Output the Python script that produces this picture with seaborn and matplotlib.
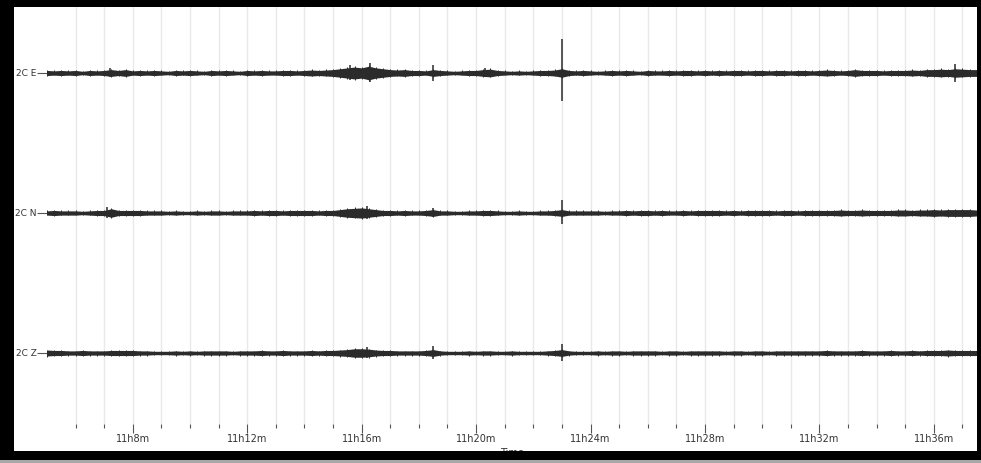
import numpy as np
import pandas as pd
import matplotlib
matplotlib.use("Agg")
import matplotlib.pyplot as plt
from matplotlib.patches import Rectangle
from matplotlib.ticker import FixedLocator
import seaborn as sns

# channels, top to bottom
channels = ["2C E", "2C N", "2C Z"]

# envelope half-amplitude (counts), one value every 0.25 min from 11h05m to 11h37m30s
t0, dt = 5.0, 0.25
env_e = [3, 2.5, 3, 2.5, 3, 2, 3, 2.5, 3, 4, 3, 4, 2.5, 3, 2.5, 3,
         2.5, 2, 3, 2.5, 3, 2.5, 2, 3, 2.5, 3, 2.5, 2, 3, 2.5, 3, 2.5,
         2.5, 3, 3, 2.5, 3, 3.5, 3, 3.5, 4, 5, 6, 7, 6, 8, 6, 5,
         4, 3.5, 4, 3, 3, 2.5, 4, 3, 2.5, 2, 2.5, 3, 3, 4, 4.5, 3,
         2.5, 2, 2.5, 2, 2.5, 3, 3, 3.5, 5, 3, 2.5, 3, 2.5, 2, 2.5, 3,
         2.5, 3, 2.5, 2, 3, 2.5, 2.5, 3, 2.5, 3, 3, 2.5, 3, 2.5, 3, 2.5,
         3, 3, 2.5, 3, 3, 2.5, 3, 3, 2.5, 3, 3, 2.5, 3, 3.5, 3, 2.5,
         3, 4, 3, 3, 3, 2.5, 3, 3, 3, 3.5, 3, 4, 4, 4.5, 4, 5,
         4.5, 4, 4]
env_n = [2.5, 3, 2.5, 2.5, 2.5, 2, 2.5, 3, 3, 5, 3, 3, 3, 3, 2.5, 2.5,
         2.5, 2, 2.5, 2, 2, 2.5, 2, 2.5, 2.5, 2, 2.5, 2.5, 2.5, 3, 2.5, 3,
         3, 2.5, 3, 3, 3, 3, 2.5, 3, 3, 4, 5, 5.5, 6, 5, 4, 3,
         3, 2.5, 3, 2.5, 2.5, 3, 4, 2.5, 2.5, 2, 2, 2.5, 2.5, 3, 3, 2.5,
         2, 2, 2.5, 2, 2, 2.5, 2.5, 3, 4, 2.5, 2.5, 2.5, 2.5, 2.5, 2, 2.5,
         2.5, 3, 2.5, 3, 3, 2.5, 3, 2.5, 2.5, 3, 2.5, 3, 3, 3, 3, 2.5,
         3, 2.5, 3, 3, 3, 3, 2.5, 3, 3, 2.5, 3, 3, 3, 3, 3, 3.5,
         3, 3, 3.5, 3, 3, 3, 3, 3.5, 3.5, 3, 3.5, 3.5, 4, 3.5, 4, 4,
         4, 4, 3.5]
env_z = [3.5, 3, 3, 2.5, 2.5, 3, 2.5, 2.5, 2.5, 3, 3, 3, 3, 2.5, 2.5, 2,
         2, 2, 2.5, 2, 2.5, 2, 2.5, 2.5, 2.5, 2.5, 2, 2.5, 2.5, 2.5, 3, 2.5,
         2.5, 3, 2.5, 2.5, 2.5, 3, 2.5, 3, 3, 3.5, 4, 5, 5, 4.5, 3.5, 3,
         3, 2.5, 2.5, 2.5, 2.5, 3, 4, 2.5, 2, 2, 2, 2.5, 2, 2.5, 2.5, 2,
         2, 2.5, 2, 2, 2, 2, 2.5, 3, 4, 2.5, 2, 2, 2, 2.5, 2, 2.5,
         2.5, 2, 2.5, 2.5, 2.5, 2.5, 2, 2.5, 2.5, 2, 2.5, 2.5, 2.5, 2.5, 2.5, 2,
         2.5, 2.5, 2, 2.5, 2.5, 2, 2.5, 2.5, 2.5, 2.5, 2.5, 2.5, 2.5, 3, 2.5, 2.5,
         2.5, 2.5, 3, 2.5, 2.5, 2.5, 3, 2.5, 2.5, 3, 2.5, 3, 3, 3, 3.5, 3,
         3, 3, 3]

# transient peaks: time (min past 11h), amplitude up, amplitude down
spk_e_t = [7.2, 15.6, 16.3, 18.5, 20.3, 23.0, 36.75]
spk_e_up = [5, 8, 10, 8, 5, 34, 9]
spk_e_dn = [4, 7, 9, 8, 4, 28, 9]
spk_n_t = [7.1, 16.2, 18.5, 23.0]
spk_n_up = [6, 7, 5, 13]
spk_n_dn = [5, 6, 4, 11]
spk_z_t = [16.2, 18.5, 23.0]
spk_z_up = [6, 7, 9]
spk_z_dn = [5, 6, 8]

major_ticks = [8, 12, 16, 20, 24, 28, 32, 36]
major_labels = ["11h8m", "11h12m", "11h16m", "11h20m", "11h24m", "11h28m", "11h32m", "11h36m"]
minor_ticks = list(range(6, 38))

counts_per_unit = 140.0
band_gain = 0.85      # dense core of the trace
trace_color = "#2b2b2b"

envs = [env_e, env_n, env_z]
spikes = [(spk_e_t, spk_e_up, spk_e_dn), (spk_n_t, spk_n_up, spk_n_dn), (spk_z_t, spk_z_up, spk_z_dn)]

rows = []
for k, (ch, env) in enumerate(zip(channels, envs)):
    for i, a in enumerate(env):
        rows.append({"time": t0 + i * dt, "channel": ch, "offset": k, "amp": a / counts_per_unit})
df = pd.DataFrame(rows)
df["upper"] = df["offset"] - band_gain * df["amp"]
df["lower"] = df["offset"] + band_gain * df["amp"]

sns.set_theme(style="white")
plt.rcParams["font.family"] = ["DejaVu Sans"]

W, H = 981, 463
fig = plt.figure(figsize=(W / 100, H / 100), dpi=100, facecolor="white")
ax = fig.add_axes([47 / W, (H - 424) / H, (977 - 47) / W, (424 - 0) / H])
ax.set_facecolor("white")

# grid every minute
ax.set_xlim(5.0, 37.51)
ax.xaxis.set_major_locator(FixedLocator(major_ticks))
ax.xaxis.set_minor_locator(FixedLocator(minor_ticks))
ax.grid(True, which="both", axis="x", color="#e9e9e9", lw=1)
ax.grid(False, axis="y")

for k, ch in enumerate(channels):
    sub = df[df["channel"] == ch]
    ax.fill_between(sub["time"], sub["upper"], sub["lower"], color=trace_color, lw=0, zorder=3)
    sns.lineplot(data=sub, x="time", y="offset", ax=ax, color=trace_color, lw=1.8, zorder=3)
    # jitter of the trace at each sample
    ax.vlines(sub["time"], sub["offset"] - sub["amp"], sub["offset"] + sub["amp"],
              color=trace_color, lw=0.7, zorder=3)
    st, su, sd = spikes[k]
    ax.vlines(st, [k - u / counts_per_unit for u in su], [k + d / counts_per_unit for d in sd],
              color=trace_color, lw=1.1, zorder=4)

ax.set_ylim(2 + (424 - 353) / counts_per_unit, -73 / counts_per_unit)
ax.set_yticks(range(len(channels)))
ax.set_yticklabels(channels)
ax.set_xticklabels(major_labels)

for s in ax.spines.values():
    s.set_visible(False)

ax.tick_params(axis="x", which="major", direction="out", length=6.5, width=0.8,
               color="#555555", labelsize=7, labelcolor="#333333", pad=1, bottom=True)
ax.tick_params(axis="x", which="minor", direction="out", length=3, width=0.8,
               color="#555555", bottom=True)
ax.tick_params(axis="y", direction="out", length=7, width=0.8, color="#555555",
               labelsize=6.5, labelcolor="#333333", pad=0.5, left=True)
ax.set_xlabel("Time", fontsize=7, color="#333333", labelpad=2.5)
ax.set_ylabel("")

# black frame around the screenshot
frame = [
    (0, 0, W, 7, "black"),
    (0, 0, 14, 460, "black"),
    (977, 0, 4, 460, "black"),
    (0, 451, W, 9, "black"),
    (0, 460, W, 3, "#a8a8a8"),
]
for x, y, w, h, c in frame:
    fig.add_artist(Rectangle((x / W, (H - y - h) / H), w / W, h / H,
                             transform=fig.transFigure, color=c, lw=0, zorder=20))

fig.savefig("out.png", dpi=100, facecolor="white")
